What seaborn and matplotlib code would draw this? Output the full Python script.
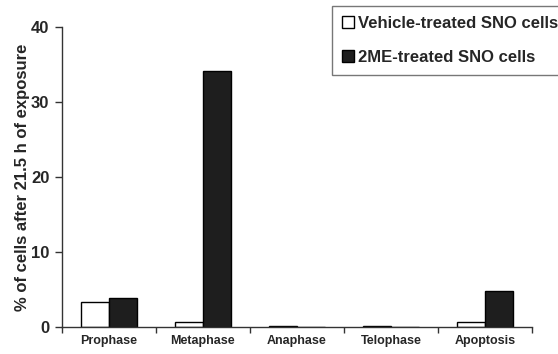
import numpy as np
import pandas as pd
import matplotlib
matplotlib.use('Agg')
import matplotlib.pyplot as plt
from matplotlib.ticker import FixedLocator
import seaborn as sns

# data
phases = ['Prophase', 'Metaphase', 'Anaphase', 'Telophase', 'Apoptosis']
groups = ['Vehicle-treated SNO cells', '2ME-treated SNO cells']
vehicle = [3.4, 0.65, 0.2, 0.2, 0.65]
treated = [3.9, 34.1, 0.0, 0.0, 4.75]

df = pd.DataFrame({
    'phase': phases * 2,
    'group': [groups[0]] * len(phases) + [groups[1]] * len(phases),
    'value': vehicle + treated,
})

sns.set_style('white')
plt.rcParams['font.family'] = ['Liberation Sans', 'DejaVu Sans']
plt.rcParams['font.weight'] = 'bold'

fig = plt.figure(figsize=(5.58, 3.54), dpi=100)
ax = fig.add_axes([0.111, 0.076, 0.842, 0.848])

sns.barplot(data=df, x='phase', y='value', hue='group', hue_order=groups,
            palette=['white', '#1e1e1e'], edgecolor='black', linewidth=1.0,
            width=0.6, gap=0, ax=ax, legend=True)

ax.set_xlim(-0.5, 4.5)
ax.set_ylim(0, 40)
ax.set_yticks([0, 10, 20, 30, 40])
ax.set_xlabel('')
ax.set_ylabel('% of cells after 21.5 h of exposure', fontsize=12, fontweight='bold', labelpad=1)

for s in ['top', 'right']:
    ax.spines[s].set_visible(False)
for s in ['left', 'bottom']:
    ax.spines[s].set_color('#333333')
    ax.spines[s].set_linewidth(1.0)

ax.tick_params(axis='y', which='major', left=True, direction='out', length=5, width=1,
               color='#333333', labelsize=12, pad=4)
ax.tick_params(axis='x', which='major', bottom=False, length=0, labelsize=9, pad=6)
ax.xaxis.set_minor_locator(FixedLocator(np.arange(-0.5, 5, 1.0)))
ax.tick_params(axis='x', which='minor', bottom=True, direction='out', length=4, width=1,
               color='#333333')
for lab in ax.get_xticklabels() + ax.get_yticklabels():
    lab.set_fontweight('bold')

ax.legend_.remove()
leg = fig.legend(*ax.get_legend_handles_labels(), loc='upper left',
                 bbox_to_anchor=(332 / 558, 1 - 6 / 354), frameon=True,
                 fancybox=False, edgecolor='#555555', fontsize=12,
                 handlelength=0.7, handleheight=0.7, handletextpad=0.25,
                 labelspacing=1.15, borderpad=0.6, borderaxespad=0)
for t in leg.get_texts():
    t.set_fontweight('bold')

fig.savefig('out.png', dpi=100)
